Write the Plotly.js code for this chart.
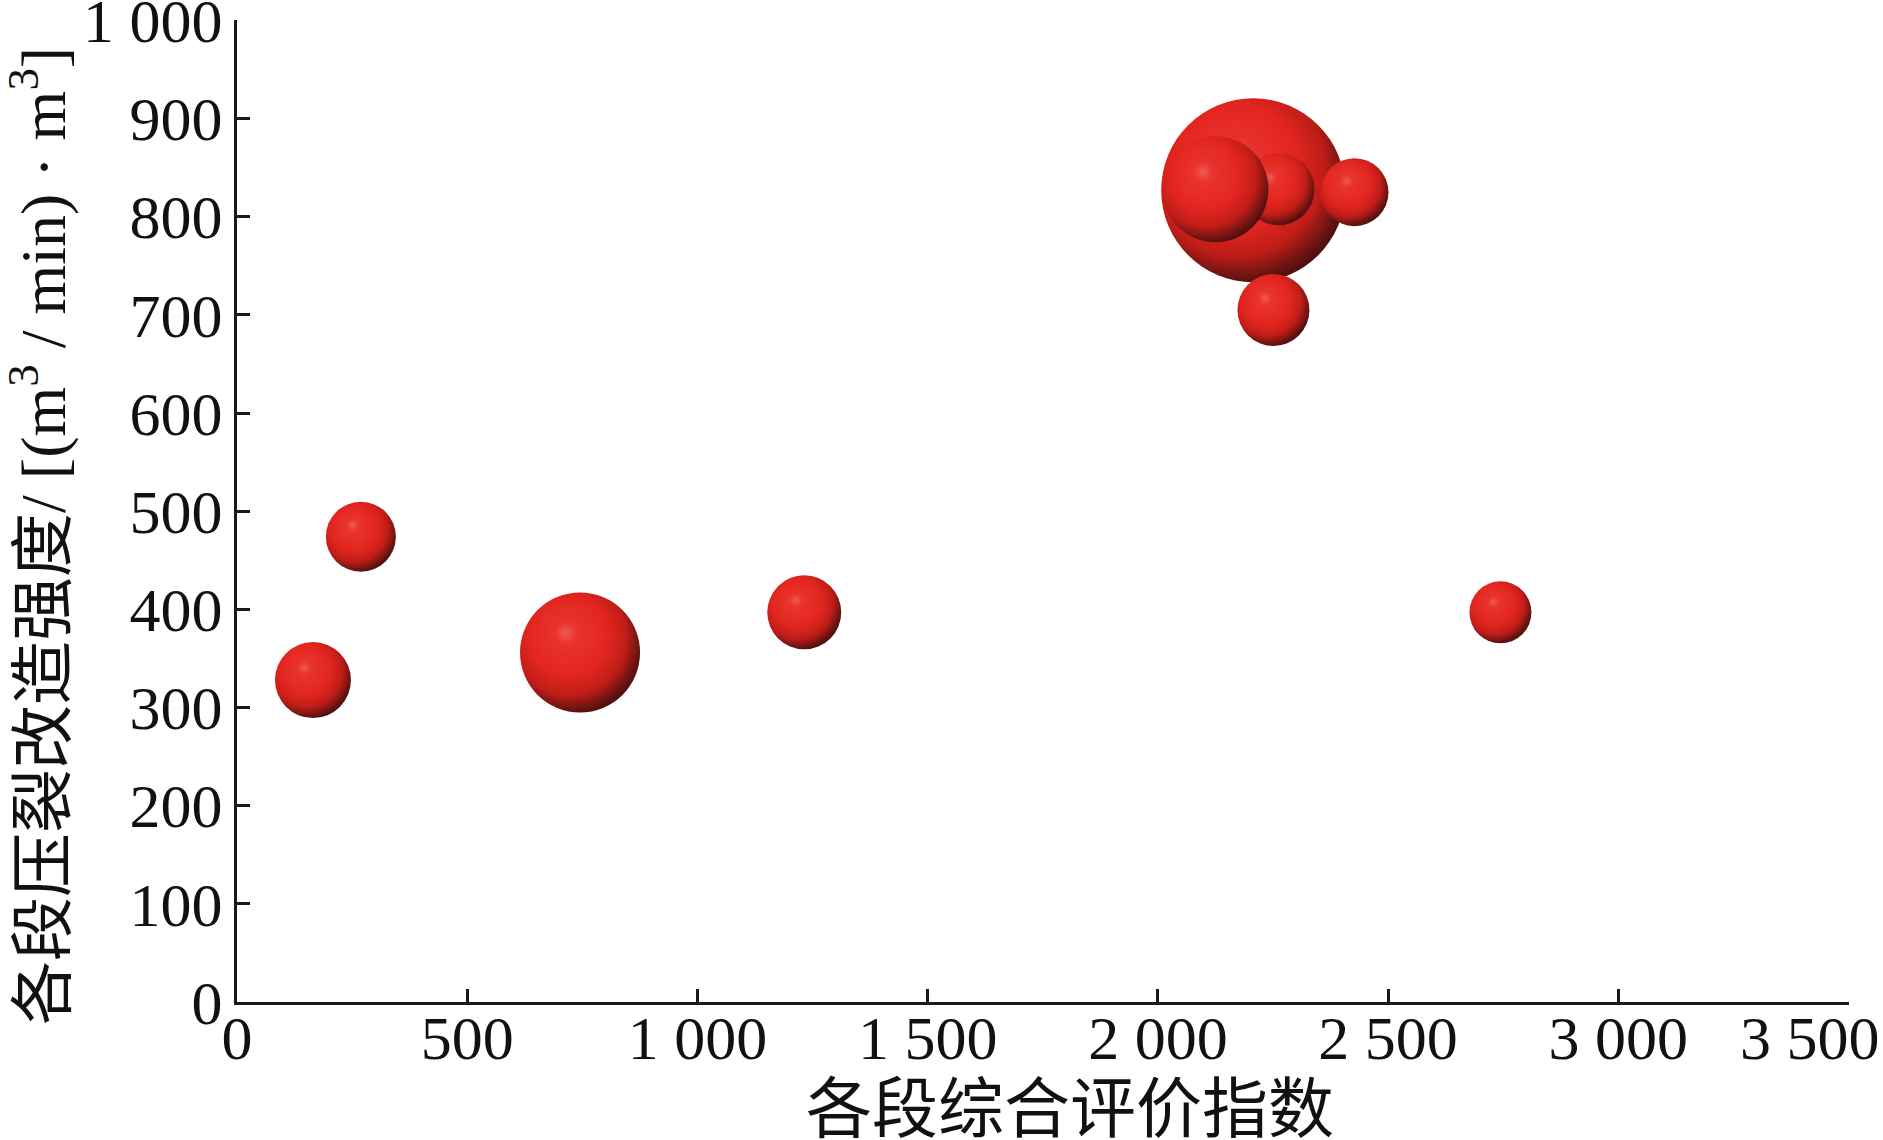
<!DOCTYPE html>
<html>
<head>
<meta charset="utf-8">
<script src="https://cdn.plot.ly/plotly-3.0.1.min.js"></script>
<style>
  html, body { margin: 0; padding: 0; background: #ffffff; overflow: hidden; }
  #chart { width: 1883px; height: 1140px; }
</style>
</head>
<body>
<div id="chart"></div>
<script>
// ---- Data ----
// 各段综合评价指数 (x)
var evalIndex = [165, 269, 745, 1232, 2744, 2207, 2262, 2125, 2427, 2251];
// 各段压裂改造强度 (y)
var fracIntensity = [328, 474, 356, 397, 397, 827, 828, 828, 825, 705];
// bubble size (relative)
var bubbleSize = [38, 35, 60, 37, 31, 92, 36, 53, 34, 36];

var xTickVals = [0, 500, 1000, 1500, 2000, 2500, 3000, 3500];
var xTickText = ["0", "500", "1 000", "1 500", "2 000", "2 500", "3 000", "3 500\u00a0\u00a0\u00a0\u00a0\u00a0"];
var yTickVals = [0, 100, 200, 300, 400, 500, 600, 700, 800, 900, 1000];
var yTickText = ["0", "100", "200", "300", "400", "500", "600", "700", "800", "900", "1 000"];

var xTitle = "各段综合评价指数";
var yTitle = "各段压裂改造强度/ [(m<sup>3</sup> / min) · m<sup>3</sup>]";

var serif = "Liberation Serif, Times New Roman, Noto Sans CJK SC, serif";
var cjk = "Liberation Serif, Noto Sans CJK SC, sans-serif";
var axisColor = "#1a1a1a";

var trace = {
  type: "scatter",
  mode: "markers",
  x: evalIndex,
  y: fracIntensity,
  marker: {
    size: bubbleSize,
    sizemode: "diameter",
    sizeref: 0.5,
    color: "#e3271f",
    opacity: 1,
    line: { width: 0 },
    gradient: { type: "radial", color: "#3a0b09" }
  },
  hoverinfo: "skip",
  showlegend: false
};

var axisCommon = {
  showgrid: false,
  zeroline: false,
  showline: true,
  linecolor: axisColor,
  linewidth: 3,
  ticks: "inside",
  ticklen: 13,
  tickwidth: 3,
  tickcolor: axisColor,
  tickfont: { family: serif, size: 62, color: "#111111" },
  ticklabeloverflow: "allow",
  mirror: false,
  fixedrange: true
};

var layout = {
  width: 1883,
  height: 1140,
  paper_bgcolor: "#ffffff",
  plot_bgcolor: "#ffffff",
  margin: { l: 237, r: 34, t: 20, b: 138, pad: 0 },
  xaxis: Object.assign({}, axisCommon, {
    range: [0, 3501],
    tickmode: "array",
    tickvals: xTickVals,
    ticktext: xTickText,
    ticklabelstandoff: -20
  }),
  yaxis: Object.assign({}, axisCommon, {
    range: [0, 1000.4],
    tickmode: "array",
    tickvals: yTickVals,
    ticktext: yTickText,
    ticklabelstandoff: -1
  }),
  annotations: [
    {
      text: xTitle,
      xref: "paper", yref: "paper",
      x: 0.5165, y: -0.109,
      xanchor: "center", yanchor: "middle",
      showarrow: false,
      font: { family: cjk, size: 66, color: "#111111" }
    },
    {
      text: yTitle,
      xref: "paper", yref: "paper",
      x: -0.1235, y: 0.4745,
      xanchor: "center", yanchor: "middle",
      textangle: -90,
      showarrow: false,
      font: { family: cjk, size: 64, color: "#111111" }
    }
  ],
  hovermode: false
};

var gd = document.getElementById("chart");
Plotly.newPlot(gd, [trace], layout, { displayModeBar: false, staticPlot: true }).then(function () {
  // Sphere-like shading: move gradient focus to the upper-left
  var stops = [
    [0, "#ef5a54"],
    [0.14, "#e9332d"],
    [0.5, "#e2261f"],
    [0.72, "#c01d18"],
    [0.88, "#6a1411"],
    [1, "#3a0b09"]
  ];
  var ns = "http://www.w3.org/2000/svg";
  gd.querySelectorAll("radialGradient").forEach(function (g) {
    g.setAttribute("cx", "0.42");
    g.setAttribute("cy", "0.40");
    g.setAttribute("r", "0.66");
    g.setAttribute("fx", "0.38");
    g.setAttribute("fy", "0.33");
    while (g.firstChild) g.removeChild(g.firstChild);
    stops.forEach(function (s) {
      var st = document.createElementNS(ns, "stop");
      st.setAttribute("offset", (s[0] * 100) + "%");
      st.setAttribute("stop-color", s[1]);
      st.setAttribute("stop-opacity", "1");
      g.appendChild(st);
    });
  });
});
</script>
</body>
</html>
